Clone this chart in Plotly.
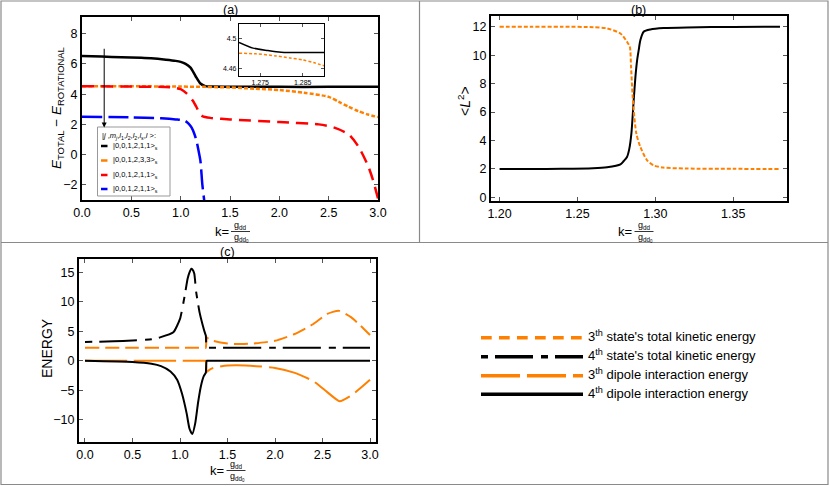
import plotly.graph_objects as go

W, H = 830, 486
FONT = "Liberation Sans, Arial, sans-serif"
ORANGE = "#FF8000"

# ---------------- panel (a) data ----------------
ka_black = [0.0, 0.2, 0.4, 0.6, 0.7, 0.85, 0.95, 1.0, 1.05, 1.1, 1.15, 1.2, 1.25, 1.3, 1.5, 2.0, 2.5, 3.0]
ea_black = [6.52, 6.48, 6.44, 6.4, 6.37, 6.28, 6.2, 6.13, 6.0, 5.75, 5.2, 4.7, 4.53, 4.5, 4.49, 4.48, 4.48, 4.48]
ka_orange = [0.0, 0.5, 1.0, 1.25, 1.5, 1.75, 2.0, 2.25, 2.5, 2.6, 2.7, 2.8, 2.9, 3.0]
ea_orange = [4.52, 4.52, 4.5, 4.48, 4.44, 4.36, 4.27, 4.09, 3.82, 3.5, 3.17, 2.88, 2.65, 2.48]
ka_red = [0.0, 0.5, 0.9, 1.0, 1.06, 1.12, 1.16, 1.19, 1.22, 1.3, 1.5, 2.0, 2.4, 2.55, 2.7, 2.8, 2.9, 2.95, 3.0]
ea_red = [4.52, 4.5, 4.45, 4.33, 4.05, 3.6, 3.15, 2.75, 2.55, 2.43, 2.33, 2.15, 2.0, 1.8, 1.35, 0.55, -0.75, -1.7, -2.9]
ka_blue = [0.0, 0.5, 0.8, 0.95, 1.04, 1.08, 1.11, 1.14, 1.16, 1.18, 1.2, 1.22, 1.24, 1.25]
ea_blue = [2.5, 2.46, 2.4, 2.33, 2.25, 2.05, 1.8, 1.35, 0.93, 0.3, -0.4, -2.0, -3.1, -3.6]
arrow_k = 0.225
arrow_y = [7.1, 1.8]
legend_a_title = "|<i>j</i> ,<i>m</i><sub><i>j</i></sub>,<i>l</i><sub>1</sub>,<i>l</i><sub>2</sub>,<i>l</i><sub>2</sub>,<i>l</i><sub><i>s</i></sub>,<i>l</i> &gt;:"
legend_a_labels = ["|0,0,1,2,1,1&gt;<sub>s</sub>", "|0,0,1,2,3,3&gt;<sub>s</sub>",
                   "|0,0,1,2,1,1&gt;<sub>s</sub>", "|0,0,1,2,1,1&gt;<sub>s</sub>"]

# inset
ki_black = [1.270, 1.2733, 1.2768, 1.2799, 1.2819, 1.285, 1.29]
ei_black = [4.495, 4.4873, 4.4841, 4.4818, 4.4814, 4.4813, 4.4813]
ki_orange = [1.270, 1.274, 1.2787, 1.282, 1.285, 1.2875, 1.29]
ei_orange = [4.4805, 4.4796, 4.4768, 4.474, 4.4714, 4.4678, 4.4635]

# ---------------- panel (b) data ----------------
kb_black = [1.20, 1.22, 1.24, 1.26, 1.269, 1.2776, 1.2797, 1.2818, 1.2833, 1.2846, 1.2861, 1.2872,
            1.2883, 1.2893, 1.2904, 1.2925, 1.2968, 1.3053, 1.3203, 1.35, 1.38]
lb_black = [2.0, 2.0, 2.01, 2.05, 2.12, 2.32, 2.56, 2.84, 3.43, 4.48, 6.83, 8.47,
            9.65, 10.35, 11.06, 11.64, 11.8, 11.9, 11.95, 11.98, 12.0]
kb_orange = [1.20, 1.22, 1.24, 1.26, 1.269, 1.2776, 1.2818, 1.2836, 1.2844, 1.2853, 1.2861, 1.2878,
             1.2904, 1.2947, 1.2989, 1.305, 1.32, 1.35, 1.38]
lb_orange = [12.0, 12.0, 12.0, 11.96, 11.88, 11.52, 10.94, 10.59, 9.18, 7.3, 6.13, 4.48,
             3.54, 2.61, 2.25, 2.1, 2.03, 2.01, 2.0]

# ---------------- panel (c) data ----------------
kc_kin4 = [0.0, 0.3, 0.5, 0.7, 0.79, 0.93, 1.0, 1.05, 1.08, 1.1, 1.12, 1.13, 1.15, 1.17, 1.205, 1.24,
           1.265, 1.272, 1.28, 1.29, 1.5, 2.0, 3.0]
ec_kin4 = [3.2, 3.3, 3.45, 3.65, 3.98, 4.83, 7.1, 11.1, 13.9, 15.0, 15.6, 15.5, 14.8, 11.7, 8.3, 6.0,
           4.6, 4.3, 2.2, 2.2, 2.2, 2.2, 2.2]
kc_dip4 = [0.0, 0.5, 0.7, 0.8, 0.9, 0.97, 1.02, 1.07, 1.10, 1.13, 1.16, 1.19, 1.22, 1.25, 1.265, 1.272,
           1.28, 1.29, 1.5, 2.0, 3.0]
ec_dip4 = [0.0, -0.2, -0.5, -0.9, -1.8, -3.2, -5.5, -8.9, -11.5, -12.4, -10.6, -7.1, -4.3, -2.6, -2.2, -2.0,
           0.0, 0.0, 0.0, 0.0, 0.0]
kc_kin3 = [0.0, 0.5, 1.0, 1.2, 1.265, 1.272, 1.28, 1.29, 1.35, 1.5, 1.6, 1.8, 2.0, 2.2, 2.4, 2.55, 2.67, 2.8, 2.9, 3.0]
ec_kin3 = [2.2, 2.2, 2.2, 2.2, 2.2, 2.2, 4.0, 3.85, 3.4, 2.95, 2.85, 2.98, 3.4, 4.5, 6.2, 7.95, 8.5, 7.4, 5.97, 4.37]
kc_dip3 = [0.0, 0.5, 1.0, 1.2, 1.265, 1.272, 1.28, 1.29, 1.35, 1.5, 1.6, 1.8, 2.0, 2.2, 2.4, 2.55, 2.68, 2.8, 2.9, 3.0]
ec_dip3 = [0.0, 0.0, 0.0, 0.0, 0.0, 0.0, -1.9, -1.75, -1.2, -0.8, -0.75, -0.9, -1.2, -2.0, -3.4, -5.3, -6.85, -5.9, -4.6, -3.2]
legend_c_labels = ["3<sup>th</sup> state's total kinetic energy",
                   "4<sup>th</sup> state's total kinetic energy",
                   "3<sup>th</sup> dipole interaction energy",
                   "4<sup>th</sup> dipole interaction energy"]


def px(x):
    return x / W


def py(y):
    return 1 - y / H


fig = go.Figure()


def line(x, y, color, width, dash, ax, smooth=0.7):
    fig.add_trace(go.Scatter(x=x, y=y, mode="lines", showlegend=False, hoverinfo="skip",
                             line=dict(color=color, width=width, dash=dash, shape="spline", smoothing=smooth),
                             xaxis="x" + ax, yaxis="y" + ax))


# panel a
line(ka_black, ea_black, "black", 2.5, "solid", "")
line(ka_orange, ea_orange, ORANGE, 2.5, "4px,2px", "")
line(ka_red, ea_red, "#FF0000", 2.5, "12px,7px", "")
line(ka_blue, ea_blue, "#0000FF", 2.5, "20px,6px", "")
# inset
line(ki_black, ei_black, "black", 1.5, "solid", "2")
line(ki_orange, ei_orange, ORANGE, 1.5, "3px,2px", "2")
# panel b
line(kb_black, lb_black, "black", 2, "solid", "3")
line(kb_orange, lb_orange, ORANGE, 2, "4px,2px", "3")
# panel c
line(kc_kin3, ec_kin3, ORANGE, 2, "14px,6px", "4", 0.5)
line(kc_kin4, ec_kin4, "black", 2, "7px,7px,38px,8px", "4", 0.5)
line(kc_dip3, ec_dip3, ORANGE, 2, "42px,7px", "4", 0.5)
line(kc_dip4, ec_dip4, "black", 2, "solid", "4", 0.5)

axis_common = dict(showline=True, linecolor="black", linewidth=2, mirror="ticks", ticks="inside",
                   ticklen=4, tickwidth=1, tickcolor="#555", showgrid=False, zeroline=False,
                   automargin=False,
                   tickfont=dict(family=FONT, size=12.5, color="black"))

fig.update_layout(
    template="none",
    width=W, height=H, margin=dict(l=0, r=0, t=0, b=0),
    paper_bgcolor="white", plot_bgcolor="white",
    font=dict(family=FONT, color="black"),
    xaxis=dict(axis_common, domain=[px(82), px(378)], range=[0, 3], tickvals=[0, 0.5, 1, 1.5, 2, 2.5, 3],
               tickformat=".1f", anchor="y"),
    yaxis=dict(axis_common, domain=[py(200), py(17)], range=[-3, 9.1], tickvals=[-2, 0, 2, 4, 6, 8], anchor="x"),
    xaxis2=dict(axis_common, domain=[px(239), px(324)], range=[1.27, 1.29], tickvals=[1.275, 1.285],
                ticktext=["1.275", "1.285"], linewidth=1.2, ticklen=3,
                tickfont=dict(family=FONT, size=7, color="black"), anchor="y2"),
    yaxis2=dict(axis_common, domain=[py(75.7), py(24)], range=[4.45, 4.52], tickvals=[4.46, 4.5],
                ticktext=["4.46", "4.5"], linewidth=1.2, ticklen=3,
                tickfont=dict(family=FONT, size=7, color="black"), anchor="x2"),
    xaxis3=dict(axis_common, domain=[px(491), px(787)], range=[1.1945, 1.3845],
                tickvals=[1.2, 1.25, 1.3, 1.35], tickformat=".2f", anchor="y3"),
    yaxis3=dict(axis_common, domain=[py(201), py(16)], range=[-0.25, 12.75],
                tickvals=[0, 2, 4, 6, 8, 10, 12], anchor="x3"),
    xaxis4=dict(axis_common, domain=[px(79), px(376)], range=[-0.063, 3.063],
                tickvals=[0, 0.5, 1, 1.5, 2, 2.5, 3], tickformat=".1f", anchor="y4"),
    yaxis4=dict(axis_common, domain=[py(442.3), py(259.3)], range=[-13.8, 17.2],
                tickvals=[-10, -5, 0, 5, 10, 15], anchor="x4"),
)

shapes = []
annotations = []

# frame lines of the figure grid
GRAY = "#8a8a8a"
shapes.append(dict(type="rect", xref="paper", yref="paper", x0=px(1), x1=px(828), y0=py(484.5), y1=py(1),
                   line=dict(color=GRAY, width=1.2)))
shapes.append(dict(type="line", xref="paper", yref="paper", x0=px(1), x1=px(828), y0=py(242.5), y1=py(242.5),
                   line=dict(color=GRAY, width=1.2)))
shapes.append(dict(type="line", xref="paper", yref="paper", x0=px(419.5), x1=px(419.5), y0=py(1), y1=py(242.5),
                   line=dict(color=GRAY, width=1.2)))

# inset background
shapes.append(dict(type="rect", xref="paper", yref="paper", x0=px(239), x1=px(324), y0=py(75.7), y1=py(24),
                   line=dict(width=0), fillcolor="white", layer="below"))


def text(x, y, s, size, xanchor="center", angle=0, yanchor="middle"):
    annotations.append(dict(x=px(x), y=py(y), xref="paper", yref="paper", text=s, showarrow=False,
                            xanchor=xanchor, yanchor=yanchor, textangle=angle,
                            font=dict(family=FONT, size=size, color="black")))


# panel titles
text(230, 10, "(a)", 12.5)
text(638, 10, "(b)", 12.5)
text(227, 252, "(c)", 12.5)

# axis titles
text(57, 108, "<i>E</i><sub>TOTAL</sub> − <i>E</i><sub>ROTATIONAL</sub>", 13.5, angle=-90)
text(464, 101, "&lt;<i>L</i><sup>2</sup>&gt;", 14, angle=-90)
text(47, 348, "ENERGY", 14, angle=-90)


def ktitle(xk, yc, xf):
    text(xk, yc, "k=", 13, xanchor="right")
    text(xf, yc - 5.5, "g<sub>dd</sub>", 9)
    text(xf + 1, yc + 6.5, "g<sub>dd<sub>0</sub></sub>", 9)
    shapes.append(dict(type="line", xref="paper", yref="paper", x0=px(xf - 9.5), x1=px(xf + 9.5),
                       y0=py(yc + 0.5), y1=py(yc + 0.5), line=dict(color="black", width=0.8)))


ktitle(230.5, 231, 240.5)
ktitle(633.5, 231, 644)
ktitle(226, 470, 236)

# arrow in panel a
annotations.append(dict(x=arrow_k, y=arrow_y[1], ax=arrow_k, ay=arrow_y[0], xref="x", yref="y",
                        axref="x", ayref="y", showarrow=True, arrowhead=2, arrowsize=1, arrowwidth=1,
                        arrowcolor="black", text=""))

# legend box in panel a
shapes.append(dict(type="rect", xref="paper", yref="paper", x0=px(97.5), x1=px(170), y0=py(196), y1=py(127),
                   line=dict(color="#999999", width=1), fillcolor="white"))
text(100, 136, legend_a_title, 7.5, xanchor="left")
leg_colors = ["black", ORANGE, "#FF0000", "#0000FF"]
leg_y = [146, 160.5, 175, 189]
for c, yy, lab in zip(leg_colors, leg_y, legend_a_labels):
    shapes.append(dict(type="line", xref="paper", yref="paper", x0=px(101), x1=px(107.5), y0=py(yy), y1=py(yy),
                       line=dict(color=c, width=2.5)))
    text(111, yy - 0.5, lab, 7.5, xanchor="left")

# legend for panel c
leg_c_colors = [ORANGE, "black", ORANGE, "black"]
leg_c_dash = ["10.7px,7.3px", "7px,7px,38px,8px", "39px,7px", "solid"]
leg_c_y = [337.7, 356.7, 375.7, 394.3]
for c, d, yy, lab in zip(leg_c_colors, leg_c_dash, leg_c_y, legend_c_labels):
    shapes.append(dict(type="line", xref="paper", yref="paper", x0=px(481), x1=px(583), y0=py(yy), y1=py(yy),
                       line=dict(color=c, width=3.5, dash=d)))
    text(585.5, yy - 1.5, lab, 13, xanchor="left")

fig.update_layout(shapes=shapes, annotations=annotations)
fig.write_html("out.html", config={"displayModeBar": False},
               post_script="document.body.style.margin='0';document.body.style.overflow='hidden';")
